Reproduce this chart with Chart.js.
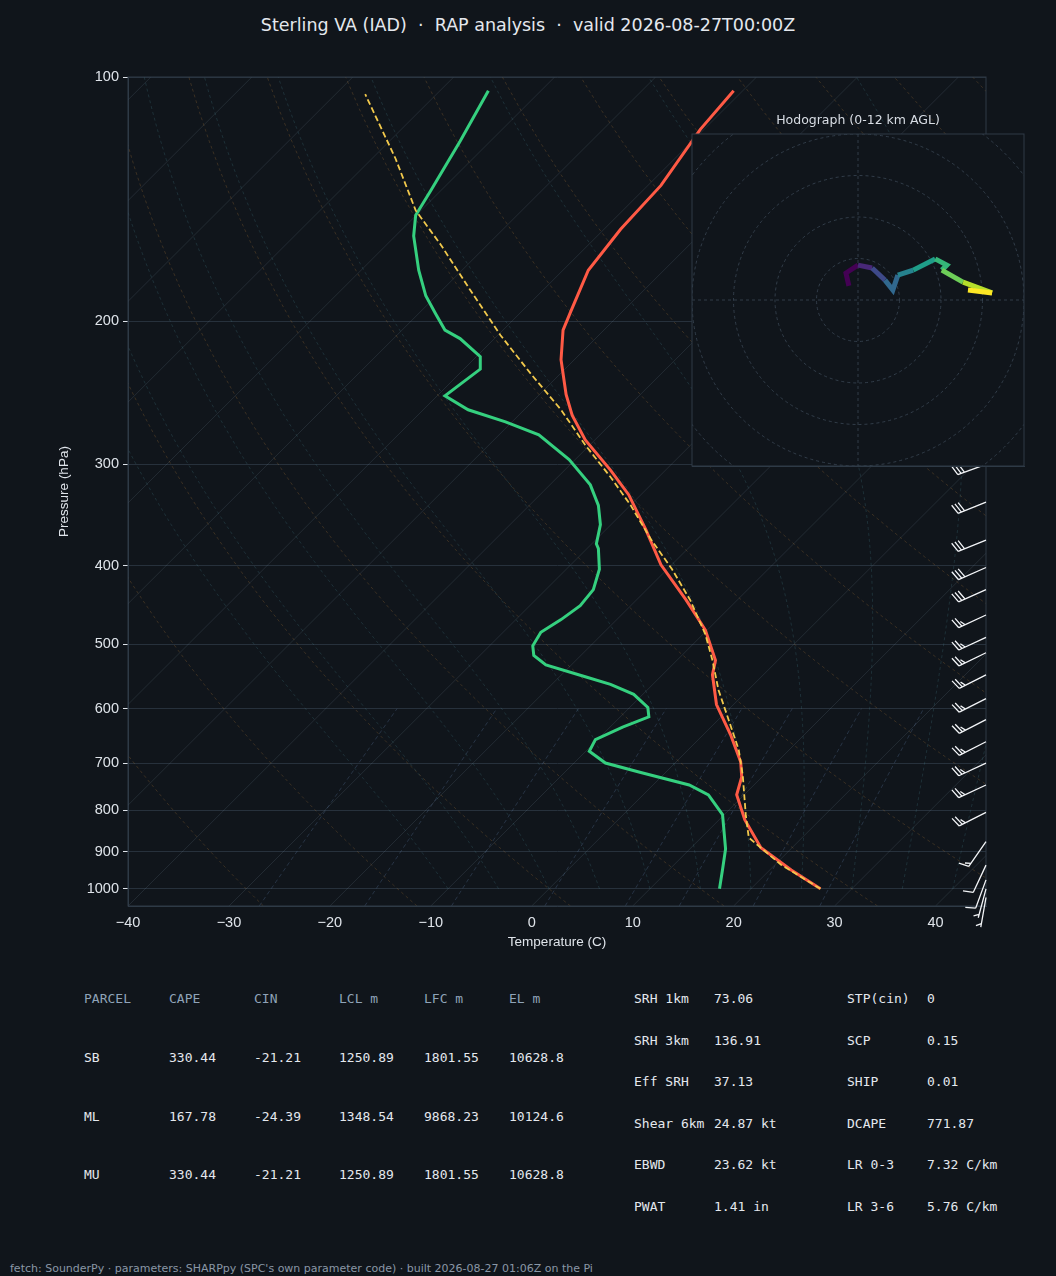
<!DOCTYPE html>
<html>
<head>
<meta charset="utf-8">
<script src="https://cdn.jsdelivr.net/npm/chart.js@4.4.1/dist/chart.umd.min.js"></script>
<style>
  body { margin: 0; background: #10151b; width: 1056px; height: 1276px; position: relative; overflow: hidden;
         font-family: "DejaVu Sans", sans-serif; color: #dde3ea; }
  #title { position: absolute; top: 15px; left: 0; width: 1056px; text-align: center; font-size: 17.5px; color: #e4e8ee; white-space: pre; }
  #skew { position: absolute; left: 0; top: 0; }
  #hodoWrap { position: absolute; left: 672px; top: 110px; width: 362px; height: 366px; }
  #hodoTitle { position: absolute; left: 692px; top: 112px; width: 332px; text-align: center; font-size: 12.5px; color: #d8dde4; }
  .mono { position: absolute; font-family: "DejaVu Sans Mono", monospace; font-size: 13px; white-space: pre; }
  .hd { color: #8fa3b8; }
  .vl { color: #e4e8ee; }
  #foot { position: absolute; left: 10px; top: 1262px; font-size: 11px; color: #8a97a6; }
</style>
</head>
<body>
<div id="title">Sterling VA (IAD)  ·  RAP analysis  ·  valid 2026-08-27T00:00Z</div>
<canvas id="skew" width="1056" height="960"></canvas>
<div id="hodoWrap"><canvas id="hodo" width="362" height="366"></canvas></div>
<div id="hodoTitle">Hodograph (0-12 km AGL)</div>
<div id="tables"></div>
<div id="foot">fetch: SounderPy · parameters: SHARPpy (SPC's own parameter code) · built 2026-08-27 01:06Z on the Pi</div>
<script>
// --- Data (x values are positions on the skewed temperature axis) ---

const pressureTicks = [100, 200, 300, 400, 500, 600, 700, 800, 900, 1000];
const tempTicks = [-40, -30, -20, -10, 0, 10, 20, 30, 40];

const tempP = [1000, 948, 890, 822, 766, 728, 698, 646, 593, 545, 523, 480, 441, 399, 361, 327, 305, 280, 261, 246, 223, 205, 194, 173, 154, 136, 116, 104];
const tempX = [28.6, 25.7, 22.7, 21.1, 20.3, 20.8, 20.7, 19.7, 18.3, 17.9, 18.2, 17.2, 15.3, 12.8, 11.3, 9.6, 7.8, 5.3, 4.0, 3.4, 2.9, 3.1, 3.9, 5.6, 8.8, 12.8, 16.7, 20.0];

const dewP = [1000, 947, 893, 810, 766, 745, 719, 700, 677, 655, 632, 614, 598, 576, 560, 548, 530, 516, 502, 483, 466, 448, 428, 404, 381, 376, 356, 337, 318, 296, 276, 266, 257, 247, 229, 221, 210, 205, 196, 186, 173, 157, 148, 138, 120, 104];
const dewX = [18.6, 18.9, 19.2, 18.9, 17.5, 15.6, 10.8, 7.3, 5.7, 6.3, 9.0, 11.6, 11.5, 10.1, 7.8, 5.3, 1.4, 0.2, 0.1, 0.9, 2.9, 4.8, 6.1, 6.7, 6.6, 6.4, 6.8, 6.6, 5.8, 3.7, 0.7, -2.6, -6.3, -8.6, -5.1, -5.1, -7.1, -8.6, -9.5, -10.5, -11.2, -11.7, -11.5, -10.0, -7.1, -4.3];

const parcelP = [1000, 934, 865, 811, 724, 674, 619, 569, 523, 486, 441, 404, 371, 337, 311, 284, 257, 232, 208, 183, 161, 146, 126, 105];
const parcelX = [28.6, 24.7, 21.5, 21.2, 20.9, 20.5, 19.5, 18.5, 17.9, 17.2, 15.7, 13.9, 11.8, 9.8, 7.8, 5.3, 2.9, -0.1, -3.1, -6.1, -9.0, -11.5, -13.5, -16.5];

const windP = [300, 334, 372, 402, 428, 460, 490, 512, 545, 583, 619, 659, 700, 745, 805, 875, 935, 975, 1000, 1025];
const windDir = [250, 248, 248, 246, 246, 245, 245, 244, 243, 243, 243, 243, 245, 245, 243, 215, 205, 200, 195, 190];
const windKt = [30, 30, 30, 28, 28, 27, 26, 26, 25, 25, 25, 25, 25, 25, 25, 15, 10, 8, 6, 5];

const hodoU = [-2.2, -2.9, 0, 3.4, 6.5, 8.4, 9.6, 13.3, 18.6, 21.4, 20.2, 25.3, 32.3, 26.5];
const hodoV = [3.4, 6.5, 8.4, 7.7, 4.8, 2.4, 6.0, 7.2, 9.9, 8.4, 7.2, 4.3, 1.7, 2.4];

const parcelHead = ['PARCEL', 'CAPE', 'CIN', 'LCL m', 'LFC m', 'EL m'];
const parcelRows = [
    ['SB', '330.44', '-21.21', '1250.89', '1801.55', '10628.8'],
    ['ML', '167.78', '-24.39', '1348.54', '9868.23', '10124.6'],
    ['MU', '330.44', '-21.21', '1250.89', '1801.55', '10628.8'],
];
const paramLeft = [['SRH 1km', '73.06'], ['SRH 3km', '136.91'], ['Eff SRH', '37.13'], ['Shear 6km', '24.87 kt'], ['EBWD', '23.62 kt'], ['PWAT', '1.41 in']];
const paramRight = [['STP(cin)', '0'], ['SCP', '0.15'], ['SHIP', '0.01'], ['DCAPE', '771.87'], ['LR 0-3', '7.32 C/km'], ['LR 3-6', '5.76 C/km']];

// --- Helpers ---

const SKEW = 80.56;   // axis degrees per decade of pressure (45 degree isotherms)
const P_BOT = 1050;

function skewX(t, p) { return t + SKEW * Math.log10(P_BOT / p); }
function pts(xs, ps) { return xs.map((x, i) => ({ x: x, y: ps[i] })); }

function pressureLevels() {
    const out = [];
    for (let p = 1050; p >= 100; p -= 10) out.push(p);
    return out;
}

function moistLine(t0) {
    // simple pseudo-adiabat integration from 1000 hPa upward
    const Rd = 287, cp = 1005, Lv = 2.5e6, eps = 0.622;
    let T = t0 + 273.15;
    const line = [];
    for (let p = 1000; p >= 100; p -= 5) {
        line.push([T - 273.15, p]);
        const es = 6.112 * Math.exp(17.67 * (T - 273.15) / (T - 29.65));
        const rs = eps * es / (p - es);
        const dTdp = (Rd * T + Lv * rs) / (cp + Lv * Lv * rs * eps / (Rd * T * T)) / p;
        T -= dTdp * 5;
    }
    return line;
}

function drawBackground(chart) {
    const { ctx, chartArea: a, scales: { x, y } } = chart;
    ctx.save();
    ctx.beginPath();
    ctx.rect(a.left, a.top, a.right - a.left, a.bottom - a.top);
    ctx.clip();
    const path = (line, color, dash) => {
        ctx.beginPath();
        ctx.strokeStyle = color;
        ctx.lineWidth = 0.8;
        ctx.setLineDash(dash);
        line.forEach(([t, p], i) => {
            const px = x.getPixelForValue(skewX(t, p)), py = y.getPixelForValue(p);
            i ? ctx.lineTo(px, py) : ctx.moveTo(px, py);
        });
        ctx.stroke();
    };
    for (let t = -130; t <= 40; t += 10) path([[t, 1050], [t, 100]], 'rgba(130,150,170,0.22)', []);
    for (let th = -30; th <= 200; th += 15) {
        path(pressureLevels().map(p => [(th + 273.15) * Math.pow(p / 1000, 0.286) - 273.15, p]), 'rgba(170,120,60,0.35)', [3, 3]);
    }
    for (let t0 = -10; t0 <= 40; t0 += 5) path(moistLine(t0), 'rgba(70,130,140,0.32)', [3, 3]);
    [0.4, 1, 2, 4, 7, 10, 16, 24].forEach(w => {
        const line = [];
        for (let p = 1050; p >= 600; p -= 10) {
            const e = p * w / 1000 / (0.622 + w / 1000);
            const l = Math.log(e / 6.112);
            line.push([243.5 * l / (17.67 - l), p]);
        }
        path(line, 'rgba(90,120,160,0.4)', [4, 3]);
    });
    ctx.restore();
}

function drawBarbs(chart) {
    const { ctx, chartArea: a, scales: { y } } = chart;
    ctx.save();
    ctx.strokeStyle = '#f2f4f7';
    ctx.lineWidth = 1.3;
    windP.forEach((p, i) => {
        const x0 = a.right, y0 = y.getPixelForValue(p);
        const r = windDir[i] * Math.PI / 180;
        const dx = Math.sin(r), dy = -Math.cos(r);
        const L = 30;
        const ex = x0 + L * dx, ey = y0 + L * dy;
        ctx.beginPath(); ctx.moveTo(x0, y0); ctx.lineTo(ex, ey);
        const nx = -dy, ny = dx;
        let spd = Math.round(windKt[i] / 5) * 5, pos = 0;
        const feather = (len) => {
            const bx = ex - dx * pos, by = ey - dy * pos;
            ctx.moveTo(bx, by);
            ctx.lineTo(bx + nx * len + dx * 3, by + ny * len + dy * 3);
            pos += 3.5;
        };
        while (spd >= 10) { feather(10); spd -= 10; }
        if (spd >= 5) { if (pos === 0) pos = 3.5; feather(5); }
        ctx.stroke();
    });
    ctx.restore();
}

// --- Skew-T ---

new Chart(document.getElementById('skew'), {
    type: 'scatter',
    data: {
        datasets: [
            { data: pts(parcelX, parcelP), showLine: true, borderColor: '#f2c94c', borderWidth: 1.8, borderDash: [6, 3], pointRadius: 0 },
            { data: pts(dewX, dewP), showLine: true, borderColor: '#35d07f', borderWidth: 3, pointRadius: 0 },
            { data: pts(tempX, tempP), showLine: true, borderColor: '#ff5a45', borderWidth: 3, pointRadius: 0 },
        ],
    },
    options: {
        responsive: false,
        animation: false,
        layout: { padding: { top: 77, right: 70, left: 56, bottom: 0 } },
        plugins: { legend: { display: false }, tooltip: { enabled: false } },
        scales: {
            x: {
                type: 'linear', min: -40, max: 45,
                afterFit: s => { s.height = 54; },
                afterBuildTicks: s => { s.ticks = tempTicks.map(v => ({ value: v })); },
                ticks: { color: '#dfe4ea', font: { size: 14.5 }, padding: 3, callback: v => String(v).replace('-', '\u2212') },
                grid: { display: false, drawTicks: true, tickLength: 5, tickColor: '#dfe4ea' },
                border: { color: '#2f3a47' },
                title: { display: true, text: 'Temperature (C)', color: '#dfe4ea', font: { size: 13.5 }, padding: { top: 0, bottom: 10 } },
            },
            y: {
                type: 'logarithmic', min: 100, max: P_BOT, reverse: true,
                afterFit: s => { s.width = 72; },
                afterBuildTicks: s => { s.ticks = pressureTicks.map(v => ({ value: v })); },
                ticks: { color: '#dfe4ea', font: { size: 14.5 }, padding: 4, callback: v => String(v) },
                grid: { color: '#27313c', lineWidth: 1, tickLength: 5, tickColor: '#dfe4ea' },
                border: { color: '#2f3a47' },
                title: { display: true, text: 'Pressure (hPa)', color: '#dfe4ea', font: { size: 13.5 }, padding: 0 },
            },
        },
    },
    plugins: [{
        id: 'skewBg',
        beforeDatasetsDraw: drawBackground,
        afterDatasetsDraw: (chart) => {
            const { ctx, chartArea: a } = chart;
            ctx.save();
            ctx.strokeStyle = '#2f3a47';
            ctx.strokeRect(a.left, a.top, a.right - a.left, a.bottom - a.top);
            ctx.restore();
            drawBarbs(chart);
        },
    }],
});

// --- Hodograph ---

const viridis = ['#440154', '#482878', '#3e4989', '#31688e', '#26828e', '#1f9e89', '#35b779', '#6ece58', '#b5de2b', '#fde725'];
function viridisAt(f) { return viridis[Math.min(viridis.length - 1, Math.floor(f * viridis.length))]; }

new Chart(document.getElementById('hodo'), {
    type: 'scatter',
    data: {
        datasets: [{
            data: pts(hodoU, hodoV), showLine: true, borderWidth: 5, pointRadius: 0,
            segment: { borderColor: c => viridisAt(c.p0DataIndex / (hodoU.length - 1)) },
            borderColor: '#440154',
        }],
    },
    options: {
        responsive: false,
        animation: false,
        layout: { padding: { left: 10, top: 24, right: 10, bottom: 0 } },
        plugins: { legend: { display: false }, tooltip: { enabled: false } },
        scales: {
            x: {
                type: 'linear', min: -40, max: 40,
                afterFit: s => { s.height = 10; },
                afterBuildTicks: s => { s.ticks = [-37.5, -25, -12.5, 0, 12.5, 25, 37.5].map(v => ({ value: v })); },
                ticks: { display: false },
                grid: { display: false, drawTicks: true, tickLength: 5, tickColor: '#c8cfd8' },
                border: { color: '#2f3a47' },
            },
            y: {
                type: 'linear', min: -40, max: 40,
                afterFit: s => { s.width = 10; },
                afterBuildTicks: s => { s.ticks = [-40, -30, -20, -10, 0, 10, 20, 30, 40].map(v => ({ value: v })); },
                ticks: { display: false },
                grid: { display: false, drawTicks: true, tickLength: 5, tickColor: '#c8cfd8' },
                border: { color: '#2f3a47' },
            },
        },
    },
    plugins: [{
        id: 'rings',
        beforeDatasetsDraw: (chart) => {
            const { ctx, chartArea: a, scales: { x, y } } = chart;
            ctx.save();
            ctx.fillStyle = '#10151b';
            ctx.fillRect(a.left, a.top, a.right - a.left, a.bottom - a.top);
            ctx.beginPath();
            ctx.rect(a.left, a.top, a.right - a.left, a.bottom - a.top);
            ctx.clip();
            ctx.strokeStyle = '#3a4654';
            ctx.lineWidth = 0.8;
            ctx.setLineDash([3, 3]);
            const cx = x.getPixelForValue(0), cy = y.getPixelForValue(0);
            [10, 20, 30, 40, 50].forEach(r => {
                const rp = y.getPixelForValue(0) - y.getPixelForValue(r);
                ctx.beginPath(); ctx.arc(cx, cy, rp, 0, Math.PI * 2); ctx.stroke();
            });
            ctx.beginPath();
            ctx.moveTo(a.left, cy); ctx.lineTo(a.right, cy);
            ctx.moveTo(cx, a.top); ctx.lineTo(cx, a.bottom);
            ctx.stroke();
            ctx.setLineDash([]);
            ctx.restore();
            ctx.save();
            ctx.strokeStyle = '#2f3a47';
            ctx.strokeRect(a.left, a.top, a.right - a.left, a.bottom - a.top);
            ctx.restore();
        },
    }],
});

// --- Tables ---

const tables = document.getElementById('tables');
function addText(txt, left, top, cls) {
    const d = document.createElement('div');
    d.className = 'mono ' + cls;
    d.style.left = left + 'px';
    d.style.top = top + 'px';
    d.textContent = txt;
    tables.appendChild(d);
}
const colX = [84, 169, 254, 339, 424, 509];
parcelHead.forEach((h, i) => addText(h, colX[i], 991, 'hd'));
parcelRows.forEach((row, r) => row.forEach((v, i) => addText(v, colX[i], 1050 + r * 58.5, 'vl')));
paramLeft.forEach(([k, v], r) => { addText(k, 634, 991 + r * 41.5, 'vl'); addText(v, 714, 991 + r * 41.5, 'vl'); });
paramRight.forEach(([k, v], r) => { addText(k, 847, 991 + r * 41.5, 'vl'); addText(v, 927, 991 + r * 41.5, 'vl'); });
</script>
</body>
</html>
